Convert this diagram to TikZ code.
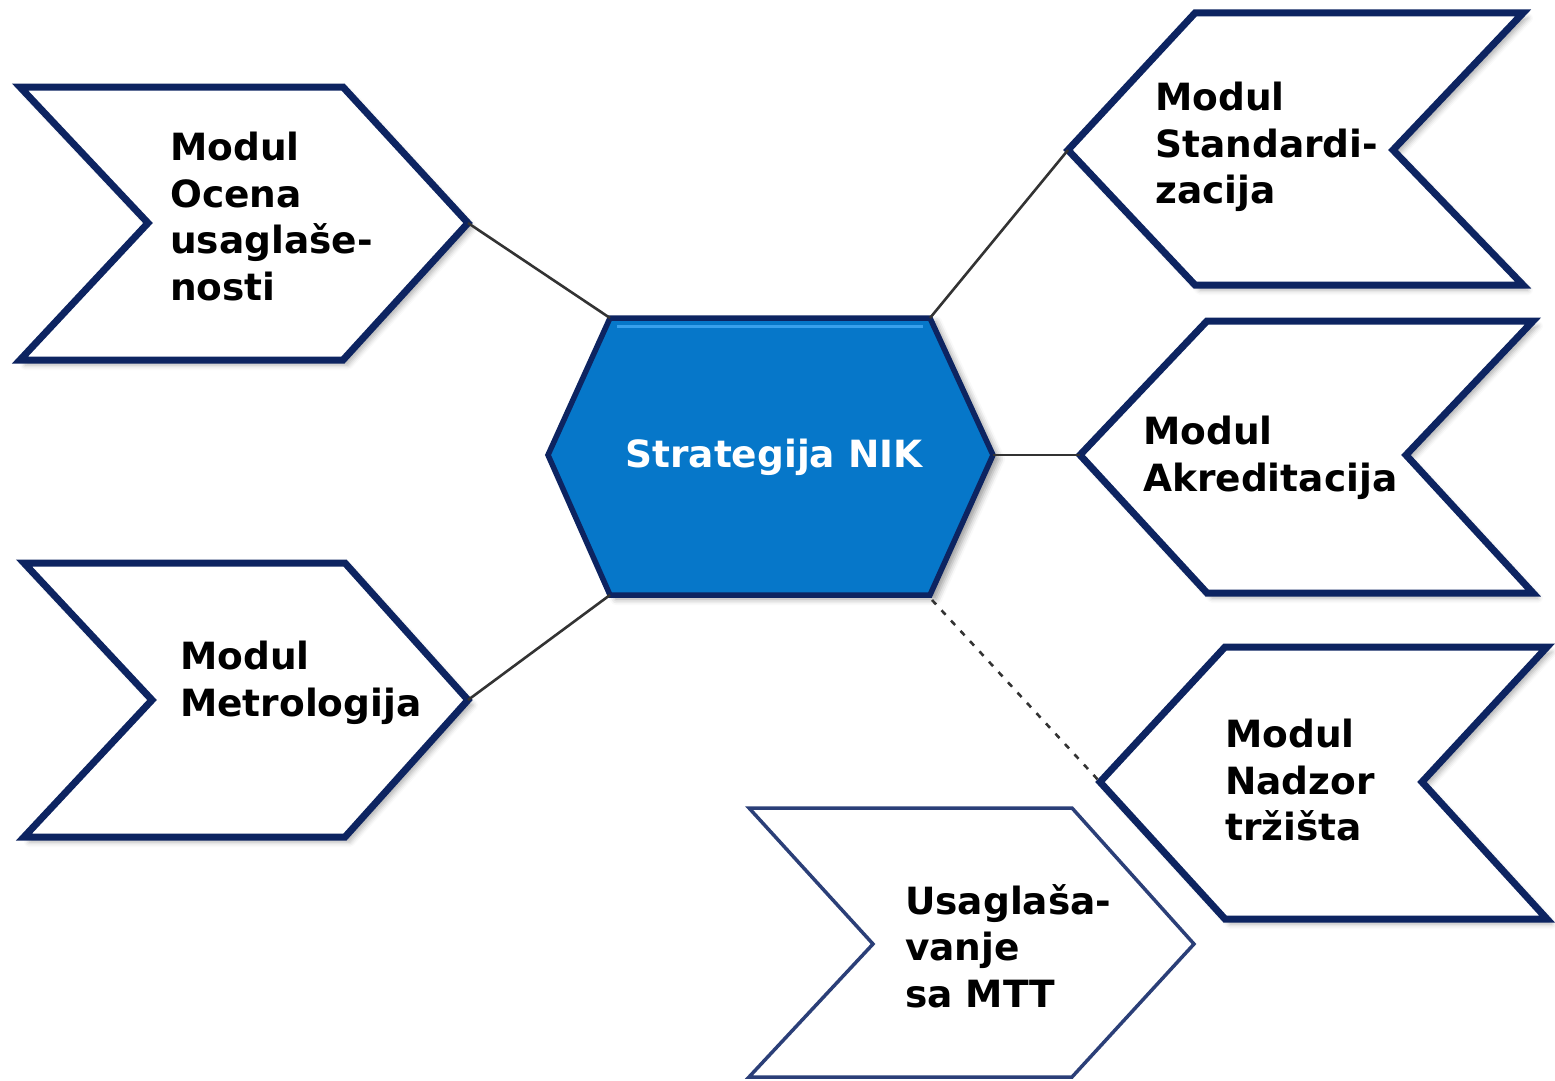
\documentclass[tikz,border=0pt]{standalone}
\usepackage{fontspec}
\setmainfont{DejaVu Sans}
\usetikzlibrary{shadows.blur}
\definecolor{navy}{HTML}{0D2461}
\definecolor{navylight}{HTML}{2B3F78}
\definecolor{hexblue}{HTML}{0677C9}
\definecolor{hexhi}{HTML}{38A0EC}
\definecolor{conn}{HTML}{333333}
\newcommand{\lblfont}{\fontsize{37.5}{46.5}\selectfont\bfseries}
\tikzset{
  modbox/.style={draw=navy, line width=7pt, fill=white, line join=miter,
    blur shadow={shadow xshift=5pt, shadow yshift=-5pt, shadow blur radius=5pt, shadow opacity=30}},
  thinbox/.style={draw=navylight, line width=3.5pt, fill=white, line join=miter},
  hexbox/.style={draw=navy, line width=5.5pt, fill=hexblue, line join=miter,
    blur shadow={shadow xshift=6pt, shadow yshift=-4pt, shadow blur radius=6pt, shadow opacity=40}},
  lbl/.style={anchor=north west, inner sep=0pt, align=left, font=\lblfont, text=black},
  link/.style={draw=conn, line width=2.6pt},
  dlink/.style={draw=conn, line width=2.6pt, dash pattern=on 6pt off 8pt}
}
\begin{document}
\begin{tikzpicture}[x=1pt,y=-1pt]
\useasboundingbox (0,0) rectangle (1555,1081);

% ---- central hexagon ----
\coordinate (htl) at (610,318);
\coordinate (htr) at (930,318);
\coordinate (hr)  at (993,455);
\coordinate (hbr) at (930,595);
\coordinate (hbl) at (610,595);
\coordinate (hl)  at (548,455);
\path[hexbox] (htl) -- (htr) -- (hr) -- (hbr) -- (hbl) -- (hl) -- cycle;
\draw[hexhi, line width=3pt] (617,326) -- (923,326);
\node[anchor=base, inner sep=0pt, font=\lblfont, text=white] (center) at (774,467) {Strategija NIK};

% ---- left top chevron ----
\coordinate (a1) at (20,87);
\coordinate (a2) at (343,87);
\coordinate (atip) at (468,223);
\coordinate (a4) at (343,360);
\coordinate (a5) at (20,360);
\coordinate (a6) at (148,223);
\path[modbox] (a1) -- (a2) -- (atip) -- (a4) -- (a5) -- (a6) -- cycle;
\node[lbl] (ocena) at (170,132) {Modul\\Ocena\\usaglaše-\\nosti};

% ---- left bottom chevron ----
\coordinate (b1) at (24,563);
\coordinate (b2) at (345,563);
\coordinate (btip) at (468,700);
\coordinate (b4) at (345,837);
\coordinate (b5) at (24,837);
\coordinate (b6) at (152,700);
\path[modbox] (b1) -- (b2) -- (btip) -- (b4) -- (b5) -- (b6) -- cycle;
\node[lbl] (metro) at (180,641) {Modul\\Metrologija};

% ---- right top chevron ----
\coordinate (c1) at (1195,13);
\coordinate (c2) at (1523,13);
\coordinate (c3) at (1393,150);
\coordinate (c4) at (1523,285);
\coordinate (c5) at (1195,285);
\coordinate (ctip) at (1068,150);
\path[modbox] (c1) -- (c2) -- (c3) -- (c4) -- (c5) -- (ctip) -- cycle;
\node[lbl] (stand) at (1155,82) {Modul\\Standardi-\\zacija};

% ---- right middle chevron ----
\coordinate (d1) at (1207,321);
\coordinate (d2) at (1533,321);
\coordinate (d3) at (1406,455);
\coordinate (d4) at (1533,593);
\coordinate (d5) at (1207,593);
\coordinate (dtip) at (1080,455);
\path[modbox] (d1) -- (d2) -- (d3) -- (d4) -- (d5) -- (dtip) -- cycle;
\node[lbl] (akred) at (1143,416) {Modul\\Akreditacija};

% ---- right lower chevron ----
\coordinate (e1) at (1225,647);
\coordinate (e2) at (1547,647);
\coordinate (e3) at (1422,782);
\coordinate (e4) at (1547,919);
\coordinate (e5) at (1225,919);
\coordinate (etip) at (1100,782);
\path[modbox] (e1) -- (e2) -- (e3) -- (e4) -- (e5) -- (etip) -- cycle;
\node[lbl] (nadzor) at (1225,719) {Modul\\Nadzor\\tržišta};

% ---- bottom chevron ----
\coordinate (f1) at (749,808);
\coordinate (f2) at (1072,808);
\coordinate (ftip) at (1194,944);
\coordinate (f4) at (1072,1077);
\coordinate (f5) at (749,1077);
\coordinate (f6) at (873,944);
\path[thinbox] (f1) -- (f2) -- (ftip) -- (f4) -- (f5) -- (f6) -- cycle;
\node[lbl] (mtt) at (905,884) {Usaglaša-\\vanje\\sa MTT};

% ---- connectors ----
\coordinate (hbrd) at (932,600);
\draw[link] (atip) -- (htl);
\draw[link] (btip) -- (hbl);
\draw[link] (htr) -- (ctip);
\draw[link] (hr) -- (dtip);
\draw[dlink] (hbrd) -- (etip);
\end{tikzpicture}
\end{document}
